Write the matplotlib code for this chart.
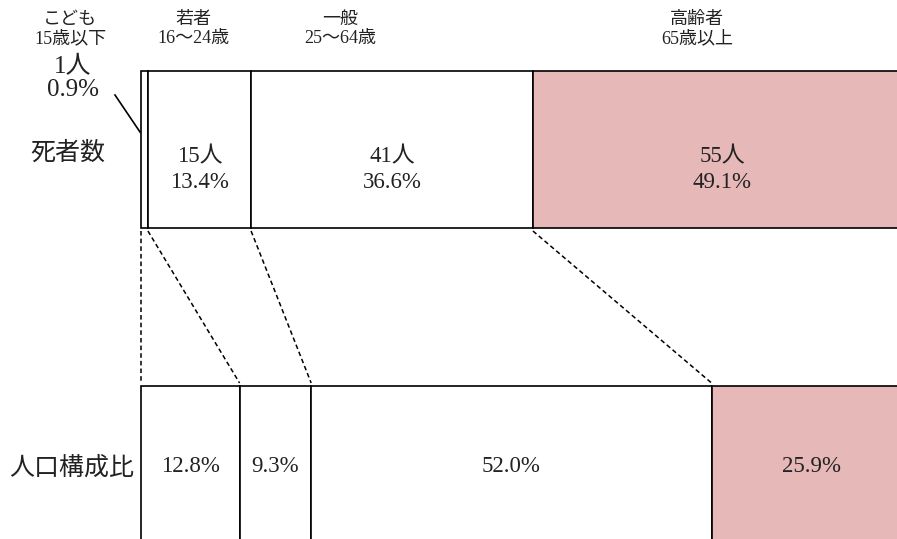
import matplotlib
matplotlib.use("Agg")
import matplotlib.pyplot as plt
import numpy as np

plt.rcParams['font.family'] = ['Noto Sans CJK JP', 'DejaVu Sans']

# ---- data ----
groups = ["こども", "若者", "一般", "高齢者"]
group_ages = ["15歳以下", "16〜24歳", "25〜64歳", "65歳以上"]
deaths = [1, 15, 41, 55]
death_pct = [0.9, 13.4, 36.6, 49.1]
pop_pct = [12.8, 9.3, 52.0, 25.9]
row_labels = ["死者数", "人口構成比"]

PINK = "#E6B8B7"
colors = ["white", "white", "white", PINK]
serif = ['Liberation Serif', 'Noto Sans CJK JP']

W, H = 897, 539
fig = plt.figure(figsize=(W / 100, H / 100), dpi=100)
ax = fig.add_axes([0, 0, 1, 1])
s = 7.7            # px per percent
x0 = 141           # px of 0%
ax.set_xlim(-x0 / s, (W - x0) / s)
ax.set_ylim(H, 0)  # y in pixel units (top down)
ax.axis('off')

top_y0, top_y1 = 71, 228
bot_y0, bot_y1 = 386, 570

top_cum = np.concatenate([[0], np.cumsum(death_pct)])
bot_cum = np.concatenate([[0], np.cumsum(pop_pct)])

ax.barh((top_y0 + top_y1) / 2, death_pct, left=top_cum[:-1], height=top_y1 - top_y0,
        color=colors, edgecolor='black', linewidth=1.2, zorder=2)
ax.barh((bot_y0 + bot_y1) / 2, pop_pct, left=bot_cum[:-1], height=bot_y1 - bot_y0,
        color=colors, edgecolor='black', linewidth=1.2, zorder=2)

# labels inside top bar (skip the tiny first segment)
for i in range(1, 4):
    cx = (top_cum[i] + top_cum[i + 1]) / 2
    ax.text(cx, 170, f"{deaths[i]}人\n{death_pct[i]:.1f}%", ha='center', va='center',
            fontsize=16.5, family=serif, color='#222', linespacing=1.3, zorder=3)

# labels inside bottom bar
for i in range(4):
    cx = (bot_cum[i] + bot_cum[i + 1]) / 2
    ax.text(cx, 467, f"{pop_pct[i]:.1f}%", ha='center', va='center',
            fontsize=16.5, family=serif, color='#222', zorder=3)

# small segment label outside
ax.text(-68 / s, 79, f"{deaths[0]}人\n{death_pct[0]:.1f}%", ha='center', va='center',
        fontsize=18, family=serif, color='#222', linespacing=1.05)
ax.plot([-26 / s, -1 / s], [95, 132], color='black', lw=1.2)

# header labels (pixel positions)
hdr_x = [70, 193, 340, 697]
for hx, g, a in zip(hdr_x, groups, group_ages):
    ax.text((hx - x0) / s, 29, f"{g}\n{a}", ha='center', va='center',
            fontsize=13, family=serif, color='#222', linespacing=1.15)

# row labels
ax.text((68 - x0) / s, 153, row_labels[0], ha='center', va='center',
        fontsize=18, color='#222')
ax.text((72 - x0) / s, 468, row_labels[1], ha='center', va='center',
        fontsize=18, color='#222')

# dashed connectors
for i in range(4):
    ax.plot([top_cum[i], bot_cum[i]], [top_y1 + 3, bot_y0 - 3], color='black',
            lw=1.1, linestyle=(0, (3, 2)), zorder=1)

fig.savefig("out.png", dpi=100)
